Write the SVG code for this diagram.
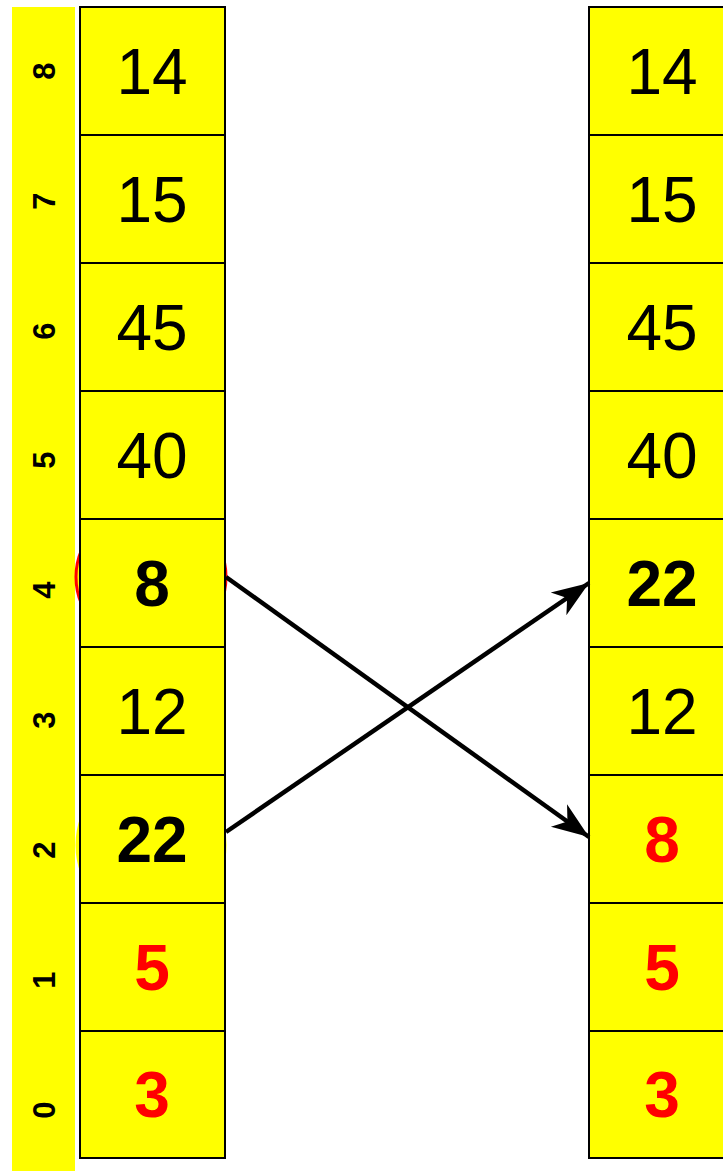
<svg xmlns="http://www.w3.org/2000/svg" width="723" height="1171" viewBox="0 0 723 1171">
<style>
.cell{fill:#ffff00;stroke:#000;stroke-width:2}
.v{font-family:"Liberation Sans",Arial,sans-serif;font-size:64px;text-anchor:middle}
.b{font-weight:bold}
.r{fill:#ff0000}
.k{fill:#000}
.idx{font-family:"Liberation Sans",Arial,sans-serif;font-size:31px;font-weight:bold;text-anchor:middle;fill:#000}
.conn{stroke:#000;stroke-width:4.5;fill:none}
</style>
<defs>
<marker id="ah" markerUnits="userSpaceOnUse" markerWidth="40" markerHeight="30" viewBox="-32 -13 34 26" refX="0" refY="0" orient="auto">
<path d="M0,0 L-32,-12 L-23,0 L-32,12 Z" fill="#000"/>
</marker>
</defs>
<rect width="723" height="1171" fill="#fff"/>
<g id="index-strip">
<rect x="12" y="7" width="63" height="1164" fill="#ffff00"/>
<text class="idx" transform="translate(55,71) rotate(-90)">8</text>
<text class="idx" transform="translate(55,201) rotate(-90)">7</text>
<text class="idx" transform="translate(55,331) rotate(-90)">6</text>
<text class="idx" transform="translate(55,460) rotate(-90)">5</text>
<text class="idx" transform="translate(55,590) rotate(-90)">4</text>
<text class="idx" transform="translate(55,720) rotate(-90)">3</text>
<text class="idx" transform="translate(55,850) rotate(-90)">2</text>
<text class="idx" transform="translate(55,980) rotate(-90)">1</text>
<text class="idx" transform="translate(55,1110) rotate(-90)">0</text>
</g>
<g id="highlights">
<ellipse cx="151" cy="577" rx="75" ry="70" fill="#ffff00" stroke="#ff0000" stroke-width="3"/>
<ellipse cx="151" cy="845" rx="74" ry="75" fill="#ffff00" stroke="#ffff00" stroke-width="3"/>
</g>
<g id="left-array">
<g id="L8"><rect class="cell" x="80" y="7" width="145" height="128"/><text class="v k" x="152" y="94">14</text></g>
<g id="L7"><rect class="cell" x="80" y="135" width="145" height="128"/><text class="v k" x="152" y="222">15</text></g>
<g id="L6"><rect class="cell" x="80" y="263" width="145" height="128"/><text class="v k" x="152" y="350">45</text></g>
<g id="L5"><rect class="cell" x="80" y="391" width="145" height="128"/><text class="v k" x="152" y="478">40</text></g>
<g id="L4"><rect class="cell" x="80" y="519" width="145" height="128"/><text class="v k b" x="152" y="606">8</text></g>
<g id="L3"><rect class="cell" x="80" y="647" width="145" height="128"/><text class="v k" x="152" y="734">12</text></g>
<g id="L2"><rect class="cell" x="80" y="775" width="145" height="128"/><text class="v k b" x="152" y="862">22</text></g>
<g id="L1"><rect class="cell" x="80" y="903" width="145" height="128"/><text class="v r b" x="152" y="990">5</text></g>
<g id="L0"><rect class="cell" x="80" y="1031" width="145" height="127"/><text class="v r b" x="152" y="1117">3</text></g>
</g>
<g id="right-array">
<g id="R8"><rect class="cell" x="589" y="7" width="150" height="128"/><text class="v k" x="662" y="94">14</text></g>
<g id="R7"><rect class="cell" x="589" y="135" width="150" height="128"/><text class="v k" x="662" y="222">15</text></g>
<g id="R6"><rect class="cell" x="589" y="263" width="150" height="128"/><text class="v k" x="662" y="350">45</text></g>
<g id="R5"><rect class="cell" x="589" y="391" width="150" height="128"/><text class="v k" x="662" y="478">40</text></g>
<g id="R4"><rect class="cell" x="589" y="519" width="150" height="128"/><text class="v k b" x="662" y="606">22</text></g>
<g id="R3"><rect class="cell" x="589" y="647" width="150" height="128"/><text class="v k" x="662" y="734">12</text></g>
<g id="R2"><rect class="cell" x="589" y="775" width="150" height="128"/><text class="v r b" x="662" y="862">8</text></g>
<g id="R1"><rect class="cell" x="589" y="903" width="150" height="128"/><text class="v r b" x="662" y="990">5</text></g>
<g id="R0"><rect class="cell" x="589" y="1031" width="150" height="127"/><text class="v r b" x="662" y="1117">3</text></g>
</g>
<g id="connectors">
<line class="conn" x1="226" y1="577" x2="589" y2="837" marker-end="url(#ah)"/>
<line class="conn" x1="226" y1="832" x2="589" y2="583" marker-end="url(#ah)"/>
</g>
</svg>
